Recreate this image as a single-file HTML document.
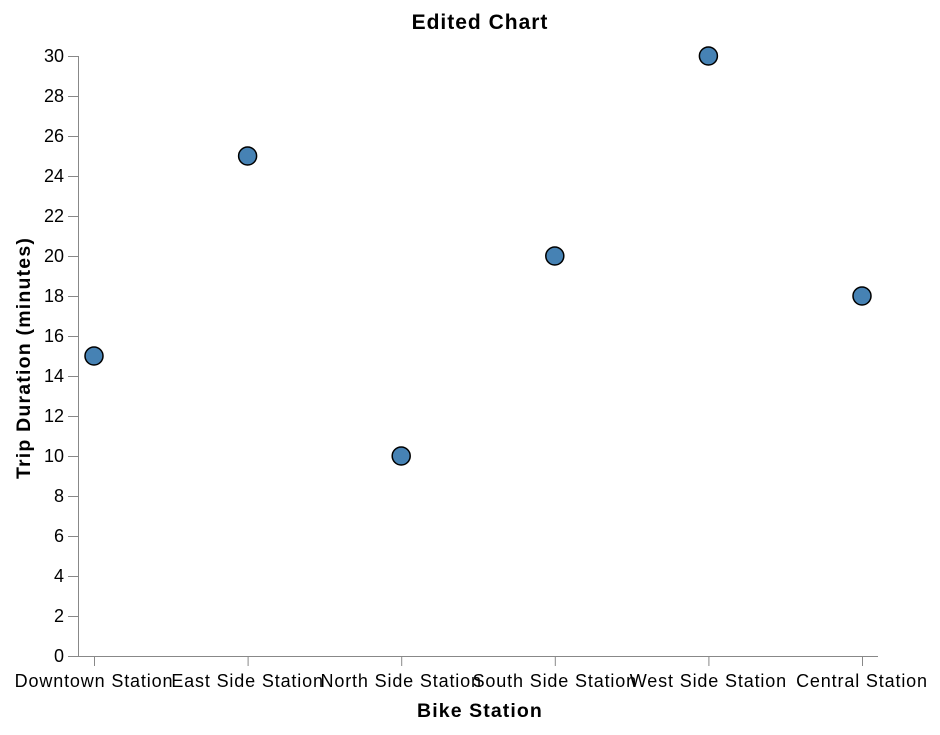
<!DOCTYPE html>
<html><head><meta charset="utf-8"><style>
body{margin:0;background:#fff;}
svg text{font-family:"Liberation Sans",Arial,sans-serif;}
</style></head><body>
<svg id="chart" width="940" height="730" xmlns="http://www.w3.org/2000/svg">
<text x="480" y="29" text-anchor="middle" font-size="21" letter-spacing="1" font-weight="bold" fill="#000">Edited Chart</text>
<g id="yaxis"></g>
<g id="xaxis"></g>
<text transform="translate(30,358) rotate(-90)" text-anchor="middle" font-size="19.5" letter-spacing="1.2" font-weight="bold">Trip Duration (minutes)</text>
<text x="480" y="717" text-anchor="middle" font-size="19.5" letter-spacing="1.1" font-weight="bold">Bike Station</text>
<g id="points"></g>
</svg>
<script>
const categories = ["Downtown Station","East Side Station","North Side Station","South Side Station","West Side Station","Central Station"];
const durations = [15,25,10,20,30,18];
const yTicks = [0,2,4,6,8,10,12,14,16,18,20,22,24,26,28,30];
{
const NS="http://www.w3.org/2000/svg";
const pLeft=78,pRight=878,pTop=56,pBottom=656,yMax=30;
const y=v=>pBottom-(v/yMax)*(pBottom-pTop);
const step=(pRight-pLeft-32)/(categories.length-1);
const x=i=>pLeft+16+i*step;
function mk(tag,attrs,parent){const e=document.createElementNS(NS,tag);for(const k in attrs)e.setAttribute(k,attrs[k]);parent.appendChild(e);return e;}
const ya=document.getElementById('yaxis'),xa=document.getElementById('xaxis'),pts=document.getElementById('points');
mk('line',{x1:pLeft+0.5,x2:pLeft+0.5,y1:pTop,y2:pBottom,stroke:'#888'},ya);
yTicks.forEach(t=>{
  const l=mk('line',{x1:pLeft-10,x2:pLeft,y1:y(t)+0.5,y2:y(t)+0.5,stroke:'#888'},ya);
  
  
  const tx=mk('text',{x:pLeft-14,y:y(t)+6,'text-anchor':'end','font-size':'18',fill:'#000'},ya);
  tx.textContent=t;
  
  
});
mk('line',{x1:pLeft,x2:pRight,y1:pBottom+0.5,y2:pBottom+0.5,stroke:'#888'},xa);
categories.forEach((c,i)=>{
  const l=mk('line',{x1:x(i)+0.5,x2:x(i)+0.5,y1:pBottom,y2:pBottom+10,stroke:'#888'},xa);
  
  
  const tx=mk('text',{x:x(i),y:pBottom+31,'text-anchor':'middle','font-size':'18','letter-spacing':'0.85',fill:'#000'},xa);
  tx.textContent=c;
  
  
});
durations.forEach((v,i)=>{
  const c=mk('circle',{cx:x(i),cy:y(v),r:9,fill:'#4682b4',stroke:'#000','stroke-width':1.5},pts);
  
  
});
}
</script>
</body></html>
